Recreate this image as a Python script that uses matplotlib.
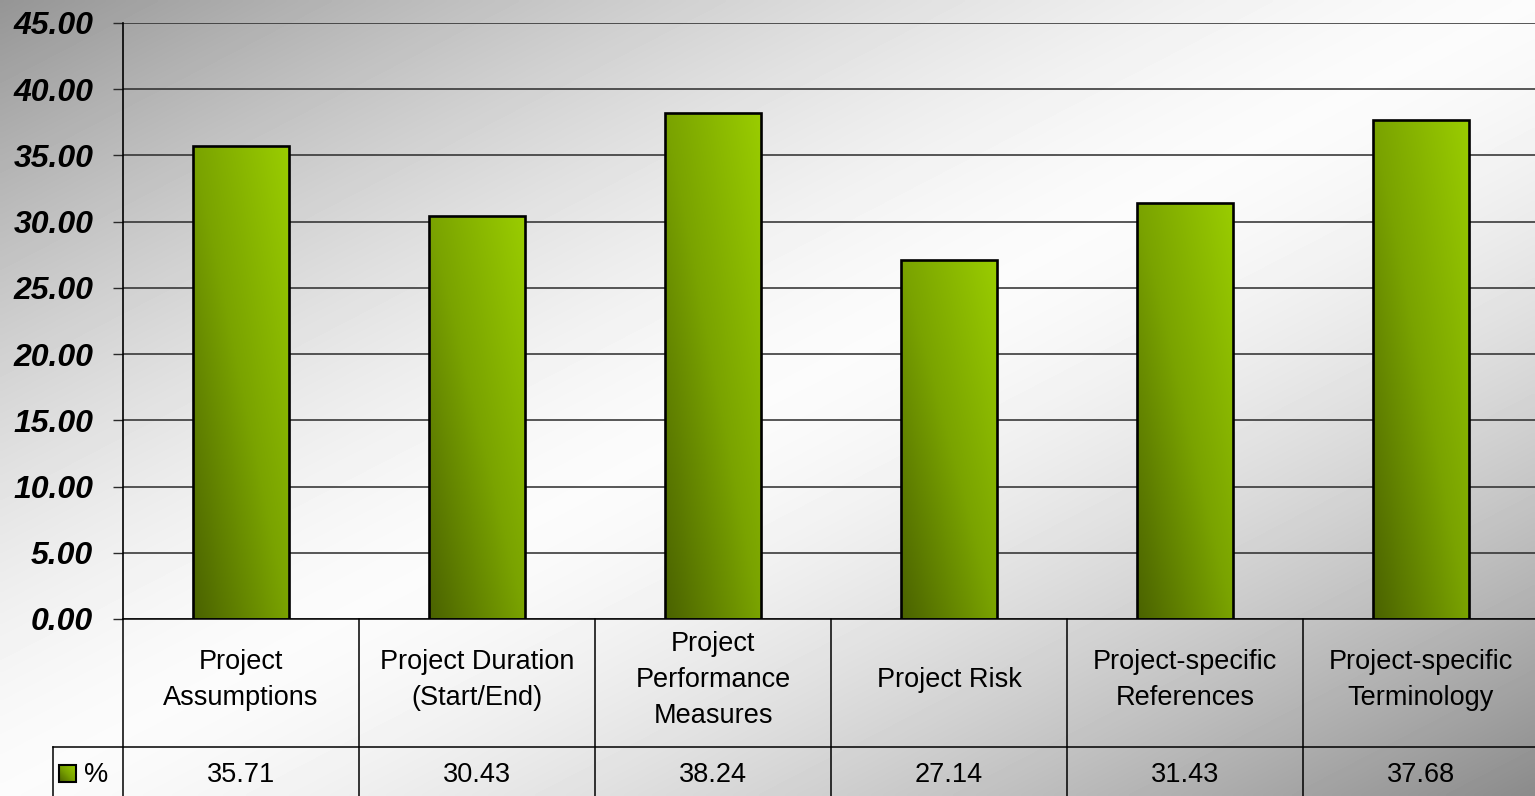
import numpy as np
import matplotlib
matplotlib.use("Agg")
import matplotlib.pyplot as plt
import matplotlib.transforms as mtransforms
from matplotlib.colors import LinearSegmentedColormap
from matplotlib.lines import Line2D
from matplotlib.patches import Rectangle

# ---------------------------------------------------------------------------
# Data
# ---------------------------------------------------------------------------
CATEGORIES = [
    "Project\nAssumptions",
    "Project Duration\n(Start/End)",
    "Project\nPerformance\nMeasures",
    "Project Risk",
    "Project-specific\nReferences",
    "Project-specific\nTerminology",
]
VALUES = [35.71, 30.43, 38.24, 27.14, 31.43, 37.68]
SERIES_NAME = "%"
Y_TICKS = [0, 5, 10, 15, 20, 25, 30, 35, 40, 45]

# ---------------------------------------------------------------------------
# Style
# ---------------------------------------------------------------------------
W, H, DPI = 1535, 796, 100
FONT = "Liberation Sans"
GREEN = LinearSegmentedColormap.from_list("olive", ["#4a6200", "#7aa300", "#9acd00"])
GRID_COLOR = "#2a2a2a"


def background_image(w, h):
    x = np.linspace(0, 1, w)[None, :]
    y = np.linspace(0, 1, h)[:, None]
    t = (x + y) / 2.0
    d = np.abs(t - 0.5) * 2.0
    edge = np.where(t < 0.5, 0.40, 0.44)
    return 0.985 - edge * d ** 1.5


def gradient_fill(ax, patch, cmap):
    bb = patch.get_bbox()
    u = np.linspace(0, 1, 64)[None, :]
    v = np.linspace(1, 0, 256)[:, None]
    grad = (u + v) / 2.0
    im = ax.imshow(grad, cmap=cmap, vmin=0, vmax=1, aspect="auto",
                   extent=(bb.x0, bb.x1, bb.y0, bb.y1), interpolation="bilinear",
                   zorder=patch.get_zorder() - 0.1)
    im.set_clip_path(patch)
    return im


fig = plt.figure(figsize=(W / DPI, H / DPI), dpi=DPI)

# full-figure grey/white diagonal backdrop
bg = fig.add_axes([0, 0, 1, 1], zorder=-10)
bg.imshow(background_image(400, 210), cmap="gray", vmin=0, vmax=1,
          aspect="auto", extent=(0, 1, 0, 1), interpolation="bilinear")
bg.set_axis_off()

# plot area in pixel units
left, top, bottom = 123, 23, 619
col_w = 236
ax = fig.add_axes([left / W, (H - bottom) / H,
                   col_w * len(CATEGORIES) / W, (bottom - top) / H])
ax.set_facecolor("none")

x = np.arange(len(CATEGORIES))
bars = ax.bar(x, VALUES, width=0.41, facecolor="none", edgecolor="black",
              linewidth=1.9, zorder=3)
for b in bars:
    gradient_fill(ax, b, GREEN)

ax.set_xlim(-0.5, len(CATEGORIES) - 0.5)
ax.set_ylim(0, 45)
ax.set_yticks(Y_TICKS)
ax.set_yticklabels([f"{v:.2f}" for v in Y_TICKS], fontfamily=FONT,
                   fontsize=23, fontweight="bold", fontstyle="italic")
ax.tick_params(axis="y", length=7.5, width=1.0, color=GRID_COLOR, pad=14)
ax.tick_params(axis="x", bottom=False, labelbottom=False)
ax.yaxis.grid(True, color=GRID_COLOR, linewidth=1.1, zorder=1)
ax.set_axisbelow(True)
for side in ("top", "right", "bottom"):
    ax.spines[side].set_visible(False)
ax.spines["left"].set_color("black")
ax.spines["left"].set_linewidth(1.2)

# ---------------------------------------------------------------------------
# Data table under the axis
# ---------------------------------------------------------------------------
fy = lambda py: (H - py) / H
blend = mtransforms.blended_transform_factory(ax.transData, fig.transFigure)
line_kw = dict(color="black", linewidth=1.1, clip_on=False)

row_top, row_mid = bottom, 747
fig.add_artist(Line2D([left / W, 1], [fy(row_top)] * 2, transform=fig.transFigure, **line_kw))
fig.add_artist(Line2D([53 / W, 1], [fy(row_mid)] * 2, transform=fig.transFigure, **line_kw))
fig.add_artist(Line2D([53 / W] * 2, [fy(row_mid), 0], transform=fig.transFigure, **line_kw))
for i in range(len(CATEGORIES) + 1):
    fig.add_artist(Line2D([i - 0.5] * 2, [fy(row_top), 0], transform=blend, **line_kw))

for i, (cat, val) in enumerate(zip(CATEGORIES, VALUES)):
    fig.text(i, fy(680), cat, transform=blend, ha="center",
             va="center", fontfamily=FONT, fontsize=19.5, linespacing=1.5,
             multialignment="center")
    fig.text(i, fy(775), f"{val:.2f}", transform=blend, ha="center",
             va="center", fontfamily=FONT, fontsize=19.5)

# legend key in the row header
key_ax = fig.add_axes([59 / W, fy(782), 17 / W, 17 / H])
key_ax.set_xlim(0, 1)
key_ax.set_ylim(0, 1)
key = Rectangle((0, 0), 1, 1, facecolor="none", edgecolor="black",
                linewidth=1.5, zorder=3, clip_on=False)
key_ax.add_patch(key)
gradient_fill(key_ax, key, GREEN)
key_ax.set_axis_off()
fig.text(84 / W, fy(775), SERIES_NAME, ha="left", va="center",
         fontfamily=FONT, fontsize=19.5)

fig.savefig("out.png", dpi=DPI)
